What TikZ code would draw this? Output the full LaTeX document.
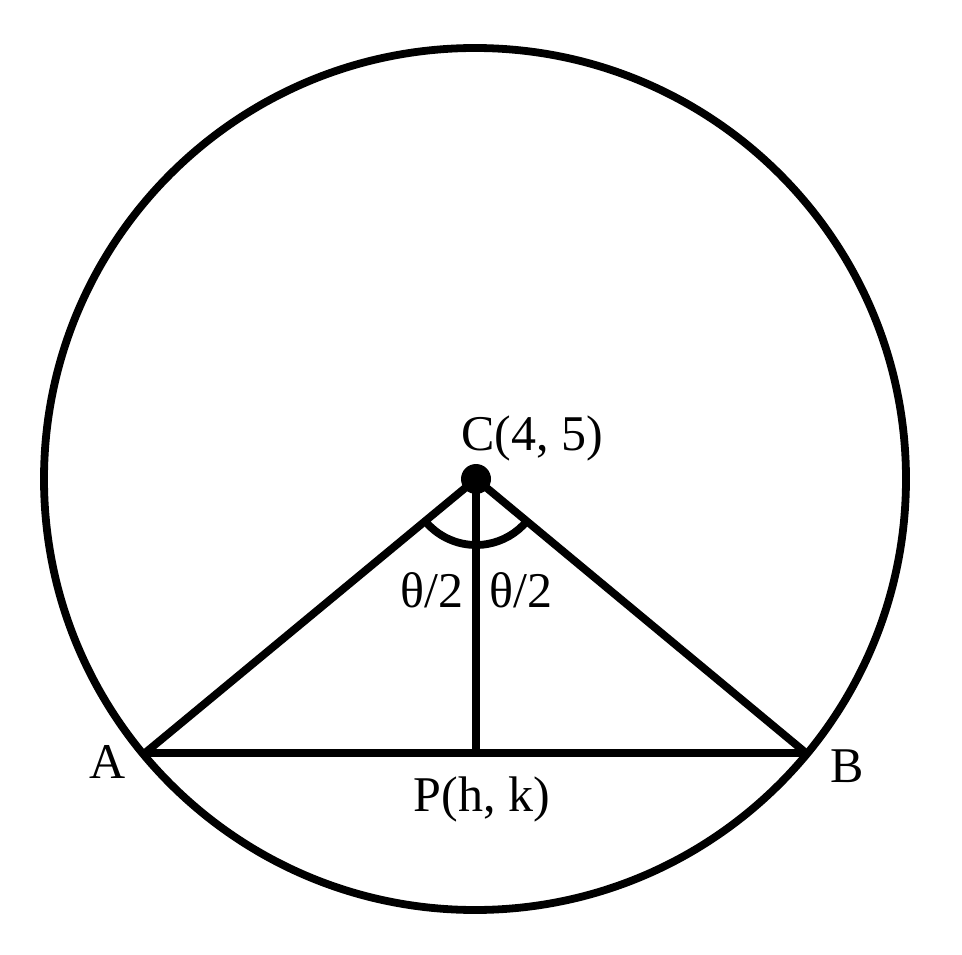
\documentclass[tikz,border=0pt]{standalone}
\usepackage{fontspec}
\setmainfont{Liberation Serif}
\begin{document}
\begin{tikzpicture}[x=1pt,y=-1pt,
  geo/.style={line width=7.8pt,black},
  lbl/.style={inner sep=0pt,anchor=base,font=\fontsize{50}{60}\selectfont}]
\useasboundingbox (0,0) rectangle (962,955);
\coordinate (O) at (475,479);
\coordinate (C) at (476,479);
\coordinate (A) at (145,753);
\coordinate (B) at (806,753);
\coordinate (P) at (476,753);
\draw[geo] (O) circle[radius=431];
\draw[geo] (A) -- (B);
\draw[geo] (C) -- (A);
\draw[geo] (C) -- (B);
\draw[geo] (C) -- (P);
\draw[geo] ([shift={(140:66)}]C) arc[start angle=140,end angle=40,radius=66];
\fill (C) circle[radius=15];
\node[lbl] (lC) at (532,450) {C(4, 5)};
\node[lbl] (lA) at (108,778) {A};
\node[lbl] (lB) at (847,782) {B};
\node[lbl] (lP) at (482,811) {P(h, k)};
\node[lbl] (t1) at (432,607) {θ/2};
\node[lbl] (t2) at (521,607) {θ/2};
\end{tikzpicture}
\end{document}
